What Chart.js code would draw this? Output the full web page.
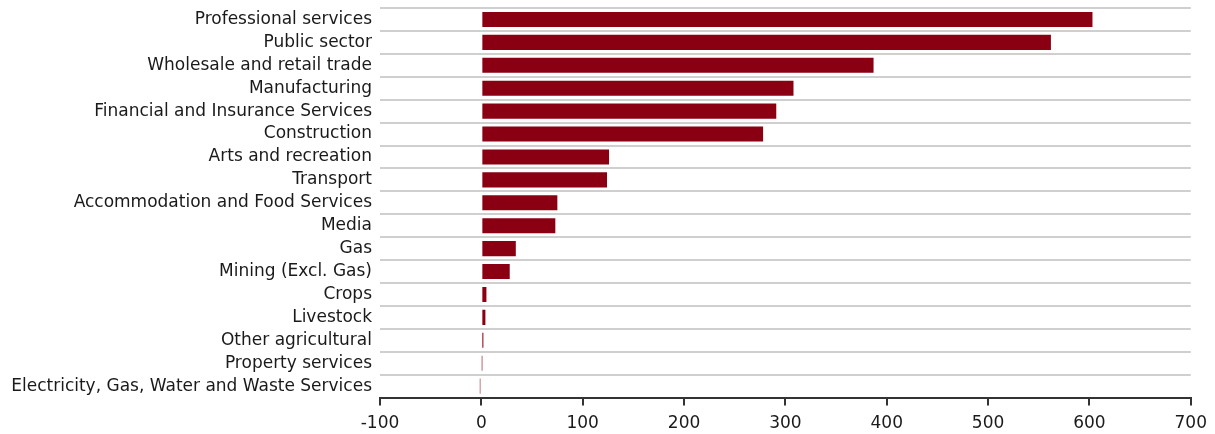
<!DOCTYPE html>
<html lang="en">
<head>
    <meta charset="UTF-8">
    <title>Industry chart</title>
    <script src="https://cdn.jsdelivr.net/npm/chart.js"></script>
    <style>
        html, body { margin: 0; padding: 0; background: #fff; }
        #wrap { width: 1215px; height: 434px; }
    </style>
</head>
<body>
    <div id="wrap"><canvas id="industryChart"></canvas></div>

    <script>
        // Categories, top to bottom
        const industries = [
            'Professional services',
            'Public sector',
            'Wholesale and retail trade',
            'Manufacturing',
            'Financial and Insurance Services',
            'Construction',
            'Arts and recreation',
            'Transport',
            'Accommodation and Food Services',
            'Media',
            'Gas',
            'Mining (Excl. Gas)',
            'Crops',
            'Livestock',
            'Other agricultural',
            'Property services',
            'Electricity, Gas, Water and Waste Services'
        ];

        // Values
        const values = [603, 562, 387, 308, 291, 278, 126, 124, 75, 73, 34, 28, 5, 4, 2, 0.4, -1.5];

        // x axis range and step
        const xMin = -100;
        const xMax = 700;
        const xStep = 100;

        const ctx = document.getElementById('industryChart').getContext('2d');
        new Chart(ctx, {
            type: 'bar',
            data: {
                labels: industries,
                datasets: [{
                    data: values,
                    backgroundColor: '#8a0012',
                    borderWidth: 0,
                    categoryPercentage: 1,
                    barPercentage: 0.66
                }]
            },
            options: {
                indexAxis: 'y',
                responsive: true,
                maintainAspectRatio: false,
                animation: false,
                layout: { padding: { top: 8, right: 24, left: 0, bottom: -8 } },
                plugins: {
                    legend: { display: false },
                    tooltip: { enabled: false }
                },
                scales: {
                    x: {
                        min: xMin,
                        max: xMax,
                        ticks: {
                            stepSize: xStep,
                            color: '#1a1a1a',
                            font: { family: 'DejaVu Sans', size: 17 },
                            padding: 8
                        },
                        grid: {
                            drawOnChartArea: false,
                            drawTicks: true,
                            tickLength: 8,
                            color: '#333',
                            lineWidth: 2
                        },
                        border: { display: true, color: '#333', width: 2 }
                    },
                    y: {
                        afterFit: (scale) => {
                            scale.width = 380;
                            scale.paddingTop = 0;
                            scale.paddingBottom = 0;
                        },
                        ticks: {
                            color: '#1a1a1a',
                            font: { family: 'DejaVu Sans', size: 17 },
                            padding: 8,
                            autoSkip: false
                        },
                        grid: {
                            offset: true,
                            drawTicks: false,
                            color: '#cfcfcf',
                            lineWidth: 2
                        },
                        border: { display: false }
                    }
                }
            }
        });
    </script>
</body>
</html>
